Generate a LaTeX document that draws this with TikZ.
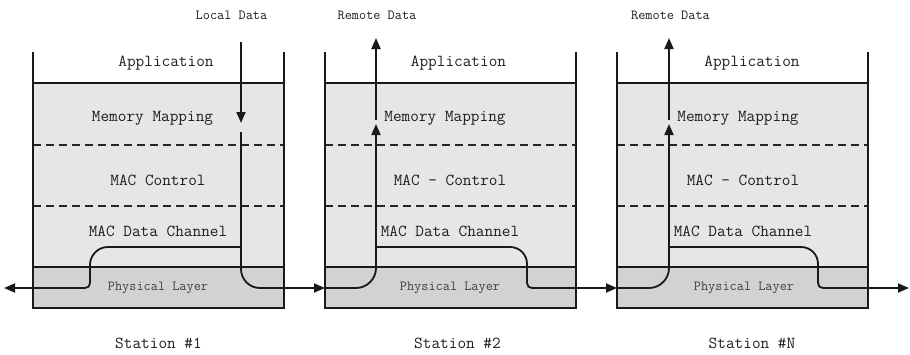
\documentclass[tikz,border=0pt]{standalone}
\usetikzlibrary{arrows.meta}
\definecolor{layerfill}{HTML}{E6E6E6}
\definecolor{physfill}{HTML}{D2D2D2}
\definecolor{inktext}{HTML}{1E1E1E}
\definecolor{phystext}{HTML}{404040}
\begin{document}
\begin{tikzpicture}[x=1pt,y=-1pt,
  wall/.style={line width=2pt,draw=black!90},
  divider/.style={line width=1.2pt,draw=black!85,dash pattern=on 8pt off 5pt},
  flow/.style={line width=1.8pt,draw=black!90},
  flowarrow/.style={flow,-{Triangle[length=11pt,width=9pt]}},
  layertext/.style={inner sep=0pt,text=inktext,font=\ttfamily\fontsize{16.8}{18}\selectfont},
  phystxt/.style={inner sep=0pt,text=phystext,font=\ttfamily\fontsize{13.9}{15}\selectfont},
  datatext/.style={inner sep=0pt,text=inktext,font=\ttfamily\fontsize{13.9}{15}\selectfont}]
\useasboundingbox (0,0) rectangle (910,354);

% protocol stacks of the three stations
\foreach \L in {33,325,617} {
  \fill[layerfill] (\L,83) rectangle (\L+251,267);
  \fill[physfill] (\L,267) rectangle (\L+251,308);
  \draw[divider] (\L,145) -- (\L+251,145);
  \draw[divider] (\L,206) -- (\L+251,206);
  \draw[wall] (\L,83) -- (\L+251,83);
  \draw[wall] (\L,267) -- (\L+251,267);
  \draw[wall] (\L,52) -- (\L,308) -- (\L+251,308) -- (\L+251,52);
}

% station 1 route points
\coordinate (s1src) at (241,42);
\coordinate (s1mmTop) at (241,123);
\coordinate (s1mmBot) at (241,132);
\coordinate (s1split) at (241,247);
\coordinate (s1turn) at (241,269);
\coordinate (s1out) at (260,288);
\coordinate (s1bendA) at (108,247);
\coordinate (s1bendB) at (90,265);
\coordinate (s1bendC) at (90,283);
\coordinate (s1bendD) at (85,288);
\coordinate (s1west) at (4,288);
% station 2 route points
\coordinate (s2in) at (325,288);
\coordinate (s2a) at (356,288);
\coordinate (s2b) at (376,268);
\coordinate (s2mmBot) at (376,124);
\coordinate (s2mmTop) at (376,120);
\coordinate (s2sink) at (376,38);
\coordinate (s2split) at (376,247);
\coordinate (s2c) at (510,247);
\coordinate (s2d) at (527,264);
\coordinate (s2e) at (527,283);
\coordinate (s2f) at (532,288);
% station N route points
\coordinate (sNin) at (617,288);
\coordinate (sNa) at (649,288);
\coordinate (sNb) at (669,268);
\coordinate (sNmmBot) at (669,124);
\coordinate (sNmmTop) at (669,120);
\coordinate (sNsink) at (669,38);
\coordinate (sNsplit) at (669,247);
\coordinate (sNc) at (801,247);
\coordinate (sNd) at (818,264);
\coordinate (sNe) at (818,283);
\coordinate (sNf) at (823,288);
\coordinate (sNeast) at (909,288);

% station 1: local data goes down and out on both sides
\draw[flowarrow] (s1src) -- (s1mmTop);
\draw[flowarrow] (s1mmBot) -- (s1turn) .. controls +(0,10.5) and +(-10.5,0) .. (s1out) -- (s2in);
\draw[flowarrow] (s1split) -- (s1bendA) .. controls +(-10,0) and +(0,-10) .. (s1bendB)
  -- (s1bendC) .. controls +(0,3) and +(3,0) .. (s1bendD) -- (s1west);
% station 2: received and passed on
\draw[flowarrow] (s2in) -- (s2a) .. controls +(11,0) and +(0,11) .. (s2b) -- (s2mmBot);
\draw[flowarrow] (s2mmTop) -- (s2sink);
\draw[flowarrow] (s2split) -- (s2c) .. controls +(9.5,0) and +(0,-9.5) .. (s2d)
  -- (s2e) .. controls +(0,3) and +(-3,0) .. (s2f) -- (sNin);
% station N: received and passed on
\draw[flowarrow] (sNin) -- (sNa) .. controls +(11,0) and +(0,11) .. (sNb) -- (sNmmBot);
\draw[flowarrow] (sNmmTop) -- (sNsink);
\draw[flowarrow] (sNsplit) -- (sNc) .. controls +(9.5,0) and +(0,-9.5) .. (sNd)
  -- (sNe) .. controls +(0,3) and +(-3,0) .. (sNf) -- (sNeast);

% labels of station 1
\node[datatext] (s1data) at (231.5,15) {Local Data};
\node[layertext] (s1app) at (166,63) {Application};
\node[layertext] (s1mm) at (152.5,118) {Memory Mapping};
\node[layertext] (s1ctl) at (158,180) {MAC Control};
\node[layertext] (s1dch) at (158,231) {MAC Data Channel};
\node[phystxt] (s1phy) at (158,288) {Physical Layer};
\node[layertext] (s1name) at (158.5,343) {Station \#1};
% labels of station 2
\node[datatext] (s2data) at (377,15) {Remote Data};
\node[layertext] (s2app) at (458.5,63) {Application};
\node[layertext] (s2mm) at (445,118) {Memory Mapping};
\node[layertext] (s2ctl) at (450,180) {MAC \textendash{} Control};
\node[layertext] (s2dch) at (450,231) {MAC Data Channel};
\node[phystxt] (s2phy) at (450,288) {Physical Layer};
\node[layertext] (s2name) at (457.5,343) {Station \#2};
% labels of station N
\node[datatext] (sNdata) at (670.5,15) {Remote Data};
\node[layertext] (sNapp) at (752,63) {Application};
\node[layertext] (sNmm) at (738,118) {Memory Mapping};
\node[layertext] (sNctl) at (743,180) {MAC \textendash{} Control};
\node[layertext] (sNdch) at (743,231) {MAC Data Channel};
\node[phystxt] (sNphy) at (744,288) {Physical Layer};
\node[layertext] (sNname) at (752,343) {Station \#N};
\end{tikzpicture}
\end{document}
